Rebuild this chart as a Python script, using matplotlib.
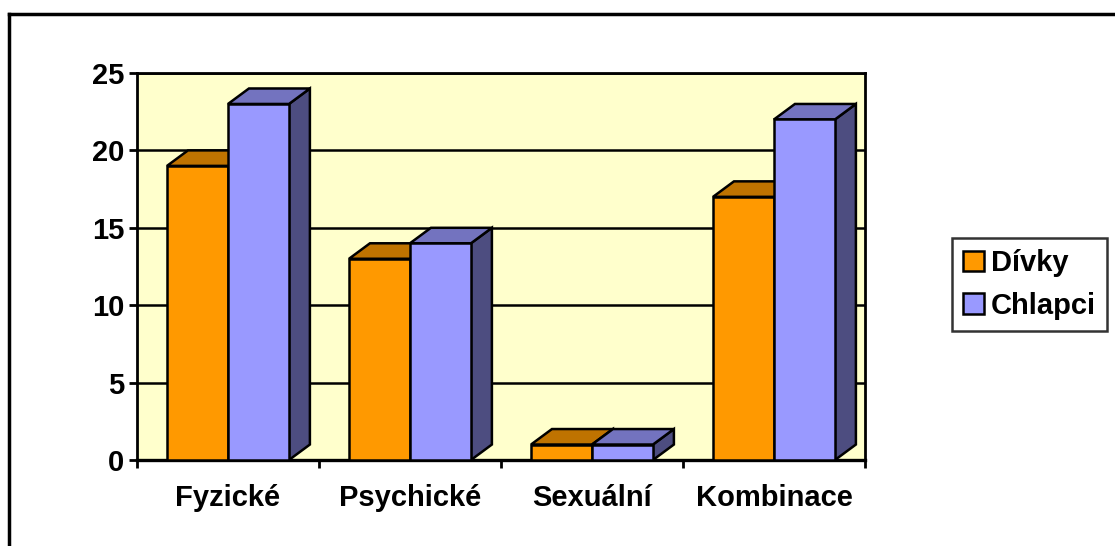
import matplotlib.pyplot as plt
from matplotlib.patches import Polygon, Patch
from matplotlib.lines import Line2D

plt.rcParams['font.family'] = ['Liberation Sans', 'DejaVu Sans']
plt.rcParams['font.weight'] = 'bold'

# data
categories = ['Fyzické', 'Psychické', 'Sexuální', 'Kombinace']
divky = [19, 13, 1, 17]
chlapci = [23, 14, 1, 22]
series_names = ['Dívky', 'Chlapci']
yticks = [0, 5, 10, 15, 20, 25]

# colours: front, top, side
col_divky = ('#FF9900', '#BF7300', '#805000')
col_chlapci = ('#9999FF', '#7373BF', '#4D4D80')

W, H = 1115, 546
fig = plt.figure(figsize=(W / 100, H / 100), dpi=100)
ax = fig.add_axes([137 / W, (H - 460) / H, (865 - 137) / W, (460 - 73) / H])
ax.set_facecolor('#FFFFCC')
ax.set_xlim(0, 4)
ax.set_ylim(0, 25)

# gridlines on the wall
for t in yticks[1:]:
    ax.axhline(t, color='black', lw=1.8, zorder=1)

bw = 0.335
dx = 0.115  # depth offset in category units
dy = 1.0    # depth offset in value units


def bar3d(x0, v, cols):
    x1 = x0 + bw
    side = Polygon([(x1, 0), (x1 + dx, dy), (x1 + dx, v + dy), (x1, v)],
                   closed=True, fc=cols[2], ec='black', lw=1.8, zorder=3)
    top = Polygon([(x0, v), (x0 + dx, v + dy), (x1 + dx, v + dy), (x1, v)],
                  closed=True, fc=cols[1], ec='black', lw=1.8, zorder=3)
    ax.add_patch(side)
    ax.add_patch(top)
    ax.bar(x0, v, width=bw, align='edge', color=cols[0], edgecolor='black',
           lw=1.8, zorder=4)


for i in range(len(categories)):
    start = i + 0.5 - bw
    bar3d(start, divky[i], col_divky)
    bar3d(start + bw, chlapci[i], col_chlapci)

for s in ax.spines.values():
    s.set_color('black')
    s.set_linewidth(2)
ax.spines['bottom'].set_linewidth(2.4)

ax.set_yticks(yticks)
ax.set_yticklabels([str(t) for t in yticks], fontsize=21, fontweight='bold')
ax.set_xticks([0, 1, 2, 3, 4])
ax.set_xticklabels([])
ax.set_xticks([0.5, 1.5, 2.5, 3.5], minor=True)
ax.set_xticklabels(categories, minor=True, fontsize=21, fontweight='bold')
ax.tick_params(axis='x', which='minor', length=0, pad=17)
ax.tick_params(axis='both', which='major', direction='out', length=6, width=2)
ax.tick_params(axis='y', pad=3)

# legend
handles = [Patch(fc=col_divky[0], ec='black', lw=1.8),
           Patch(fc=col_chlapci[0], ec='black', lw=1.8)]
leg = fig.legend(handles, series_names, loc='upper left',
                 bbox_to_anchor=(952 / W, 1 - 238 / H),
                 prop={'size': 21, 'weight': 'bold'},
                 handlelength=0.7, handleheight=0.7, handletextpad=0.25,
                 borderpad=0.38, labelspacing=0.5, fancybox=False,
                 borderaxespad=0)
leg.get_frame().set_edgecolor('black')
leg.get_frame().set_linewidth(1.8)

# outer chart border (top and left visible)
fig.add_artist(Line2D([9 / W, 1], [1 - 14 / H, 1 - 14 / H], color='black', lw=2.5,
                      transform=fig.transFigure))
fig.add_artist(Line2D([9 / W, 9 / W], [0, 1 - 14 / H], color='black', lw=2.5,
                      transform=fig.transFigure))

fig.savefig('out.png', dpi=100)
